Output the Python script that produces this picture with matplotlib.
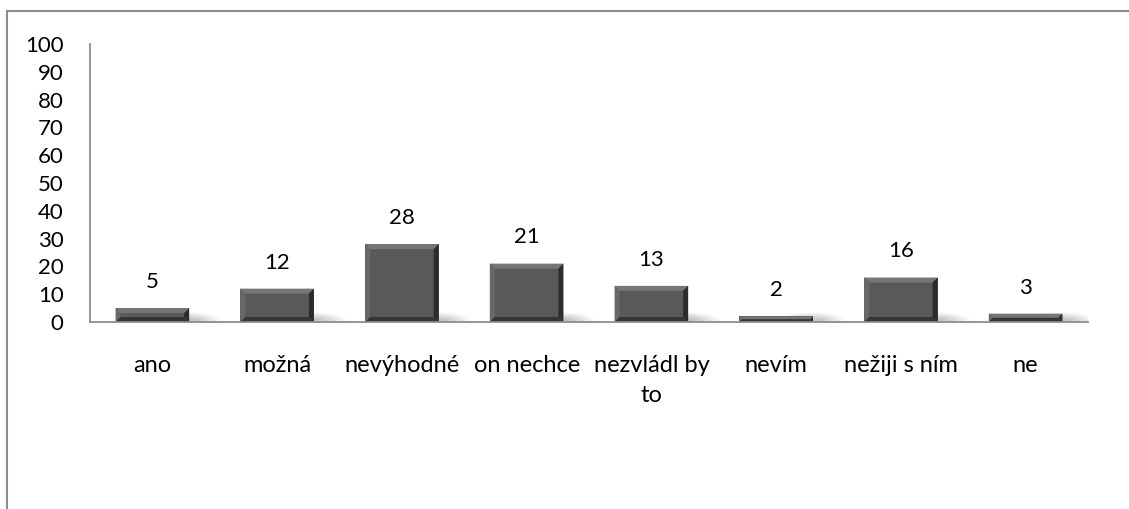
import numpy as np
import matplotlib
matplotlib.use("Agg")
import matplotlib.pyplot as plt
from matplotlib.patches import Polygon, Ellipse

plt.rcParams['font.family'] = ['Lato', 'DejaVu Sans']

categories = ["ano", "možná", "nevýhodné", "on nechce", "nezvládl by\nto",
              "nevím", "nežiji s ním", "ne"]
counts = [5, 12, 28, 21, 13, 2, 16, 3]
yticks = list(range(0, 101, 10))

W, H = 1129, 509
fig = plt.figure(figsize=(W / 100, H / 100), dpi=100)
ax = fig.add_axes([90 / W, 187 / H, (1088 - 90) / W, (322 - 44) / H])

x = np.arange(len(categories))
bw = 0.59
bars = ax.bar(x, counts, width=bw, color="#595959", zorder=3)

ax.set_xlim(-0.5, len(categories) - 0.5)
ax.set_ylim(0, 100)

# pixel -> data scale for the bevel size
px_x = 1.0 / ((1088 - 90) / len(categories))
px_y = 100.0 / (322 - 44)
bev = 5

for b, v in zip(bars, counts):
    x0 = b.get_x()
    x1 = x0 + b.get_width()
    y0, y1 = 0, v
    dx = bev * px_x
    dy = min(bev * px_y, v / 2.0)
    dxs = min(dx, dy / px_y * px_x)
    # soft shadow to the bottom right
    for k in range(10):
        ax.add_patch(Ellipse((x1 - 0.02, 0.5), 0.55 - k * 0.045, 6.0 - k * 0.5,
                             facecolor="#000000", alpha=0.022, lw=0, zorder=2))
    ix0, ix1 = x0 + dxs, x1 - dxs
    iy0, iy1 = y0 + dy, y1 - dy
    ax.add_patch(Polygon([(x0, y1), (x1, y1), (ix1, iy1), (ix0, iy1)],
                         facecolor="#767676", lw=0, zorder=4))
    ax.add_patch(Polygon([(x0, y0), (x0, y1), (ix0, iy1), (ix0, iy0)],
                         facecolor="#686868", lw=0, zorder=4))
    ax.add_patch(Polygon([(x1, y0), (x1, y1), (ix1, iy1), (ix1, iy0)],
                         facecolor="#2c2c2c", lw=0, zorder=4))
    ax.add_patch(Polygon([(x0, y0), (x1, y0), (ix1, iy0), (ix0, iy0)],
                         facecolor="#353535", lw=0, zorder=4))
    ax.text(b.get_x() + b.get_width() / 2, v + 9.4, str(v), ha="center",
            va="center", fontsize=16, color="#000000", zorder=5)

ax.set_yticks(yticks)
ax.set_yticklabels([str(t) for t in yticks])
ax.set_xticks(x)
ax.set_xticklabels(categories, linespacing=1.5)
ax.tick_params(axis="y", length=0, pad=19, labelsize=16)
ax.tick_params(axis="x", length=0, pad=24, labelsize=17)

for s in ["top", "right"]:
    ax.spines[s].set_visible(False)
for s in ["left", "bottom"]:
    ax.spines[s].set_color("#8c8c8c")
    ax.spines[s].set_linewidth(1.3)
ax.spines["bottom"].set_zorder(6)

# chart area frame (top and left edges)
fig.add_artist(plt.Line2D([7 / W, 1.0], [1 - 11 / H, 1 - 11 / H],
                          color="#8c8c8c", lw=1.5))
fig.add_artist(plt.Line2D([7 / W, 7 / W], [1 - 11 / H, 0],
                          color="#8c8c8c", lw=1.5))

fig.savefig("out.png", dpi=100)
